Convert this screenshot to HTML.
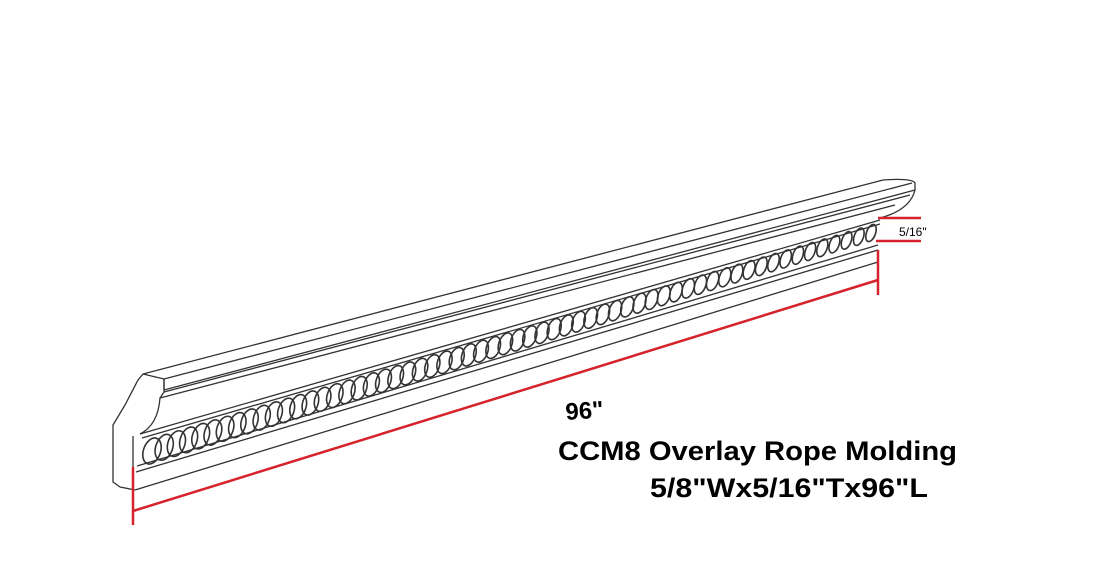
<!DOCTYPE html>
<html><head><style>
html,body{margin:0;padding:0;background:#fff;}
svg{display:block;}
text{font-family:"Liberation Sans",sans-serif;font-weight:bold;fill:#000;}
</style></head><body>
<svg id="s" width="1094" height="588" viewBox="0 0 1094 588" xmlns="http://www.w3.org/2000/svg">
<g fill="none" stroke="#333" stroke-width="1.3" stroke-linejoin="round">
<path d="M143,374 L883,180 Q912,178 915,183 L915,190 L164,390 L164,379 L143,374"/>
<line x1="164" y1="379" x2="912" y2="183"/>
<line x1="164" y1="392" x2="910" y2="195"/>
<line x1="160" y1="398" x2="895" y2="205"/>
<path d="M143,374 L138,380 L125,405 L113,425 L113,482 L120,487 L135,490"/>
<path d="M164,379 L164,392 L160,398 Q158,425 140,434"/>
<path d="M915,190 Q910,210 880,218"/>
<line x1="140" y1="434" x2="880" y2="220"/>
<line x1="142" y1="438" x2="880" y2="224"/>
<line x1="137" y1="466" x2="878" y2="245"/>
<line x1="136" y1="472" x2="878" y2="250"/>
<line x1="135" y1="490" x2="878" y2="262"/>
<line x1="133" y1="436" x2="133" y2="490"/>
<g id="beads" stroke-width="1.6"></g>
</g>
<g stroke="#d6222a" stroke-width="2.5" fill="none">
<line x1="133" y1="467" x2="133" y2="525"/>
<line x1="133" y1="511" x2="878" y2="280"/>
<line x1="878" y1="250" x2="878" y2="295"/>
<line x1="878" y1="218" x2="921" y2="218"/>
<line x1="876" y1="241" x2="921" y2="241"/>
</g>
<text x="899" y="236" style="font-weight:normal;font-size:12px">5/16"</text>
<text x="566" y="420" style="font-size:24px" transform="rotate(-4 566 420)">96"</text>
<text x="558" y="460" style="font-size:27px" textLength="399" lengthAdjust="spacingAndGlyphs">CCM8 Overlay Rope Molding</text>
<text x="650" y="497" style="font-size:27px" textLength="278" lengthAdjust="spacingAndGlyphs">5/8"Wx5/16"Tx96"L</text>
</svg>
<script>
var g=document.getElementById('beads'),n=60,s='';
for(var i=0;i<n;i++){var t=i/(n-1);var x=152+t*(871-152),y=451+t*(233-451);
var h=27-9*t,w=17-8*t;
s+='<ellipse cx="'+x.toFixed(1)+'" cy="'+y.toFixed(1)+'" rx="'+(w/2).toFixed(1)+'" ry="'+(h/2).toFixed(1)+'" transform="rotate(20 '+x.toFixed(1)+' '+y.toFixed(1)+')"/>';}
g.innerHTML=s;
</script>
</body></html>
